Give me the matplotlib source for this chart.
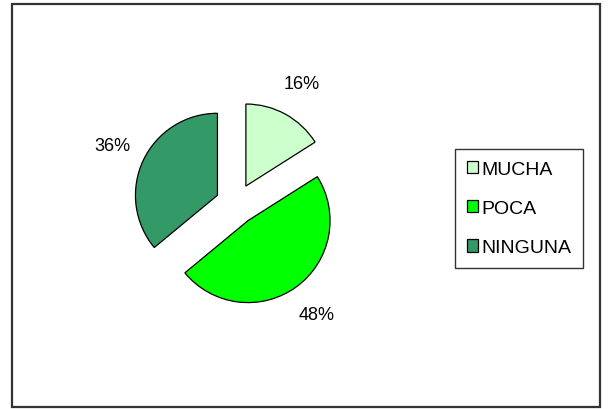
import matplotlib
matplotlib.use('Agg')
import matplotlib.pyplot as plt
from matplotlib.patches import Rectangle

etiquetas = ['MUCHA', 'POCA', 'NINGUNA']
valores = [16, 48, 36]
colores = ['#ccffcc', '#00ff00', '#339966']

plt.rcParams['font.family'] = ['Liberation Sans', 'DejaVu Sans']

fig = plt.figure(figsize=(6.08, 4.10), dpi=100)
fig.patch.set_facecolor('white')

# marco exterior
fig.add_artist(Rectangle((12/608, 2/410), 588/608, 403/410, transform=fig.transFigure,
                         fill=False, edgecolor='#333333', linewidth=1.6))

# ejes de la tarta, radio 82 px, centro (236, 205)
R = 82.0
lim = 1.6
lado = 2 * lim * R
ax = fig.add_axes([(236 - lado/2)/608, (410 - 205 - lado/2)/410, lado/608, lado/410])

cunas, textos, pcts = ax.pie(valores, colors=colores, startangle=90, counterclock=False,
                             explode=[0.25, 0.25, 0.25], autopct='%1.0f%%', pctdistance=1.42,
                             wedgeprops={'edgecolor': 'black', 'linewidth': 0.9},
                             textprops={'fontsize': 13, 'color': 'black'})
ax.set_xlim(-lim, lim)
ax.set_ylim(-lim, lim)
ax.set_aspect('equal')
ax.axis('off')

leg = fig.legend(cunas, etiquetas, loc='upper left', bbox_to_anchor=(455/608, 1 - 150/410),
                 frameon=True, fancybox=False, fontsize=14, handlelength=0.6, handleheight=0.6,
                 handletextpad=0.15, labelspacing=1.15, borderpad=0.6, borderaxespad=0)
leg.get_frame().set_edgecolor('black')
leg.get_frame().set_linewidth(1.0)

plt.savefig('out.png', dpi=100)
